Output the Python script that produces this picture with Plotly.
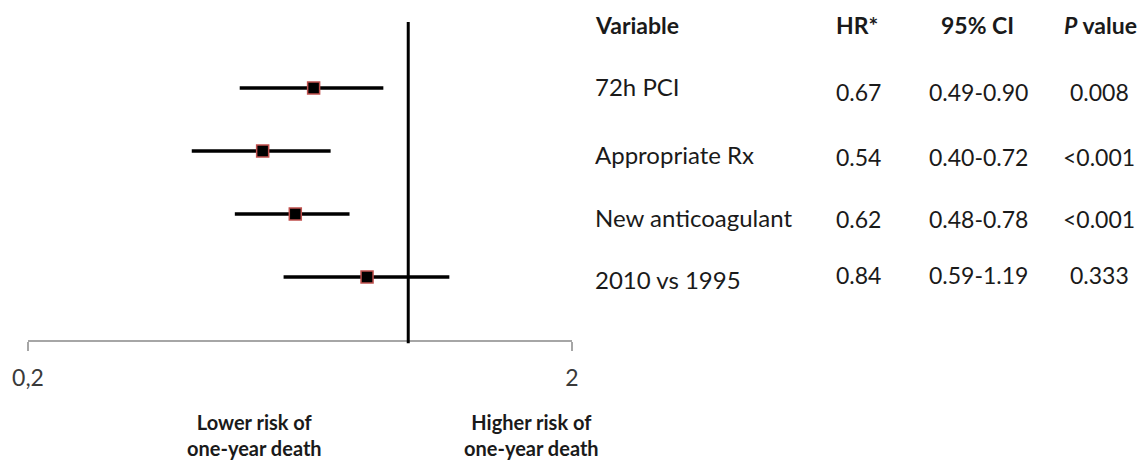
import plotly.graph_objects as go

variables = ["72h PCI", "Appropriate Rx", "New anticoagulant", "2010 vs 1995"]
hr = [0.67, 0.54, 0.62, 0.84]
ci_low = [0.49, 0.40, 0.48, 0.59]
ci_high = [0.90, 0.72, 0.78, 1.19]
hr_text = ["0.67", "0.54", "0.62", "0.84"]
ci_text = ["0.49-0.90", "0.40-0.72", "0.48-0.78", "0.59-1.19"]
p_text = ["0.008", "<0.001", "<0.001", "0.333"]
tick_vals = [0.2, 2]
tick_text = ["0,2", "2"]
rows = list(range(len(variables)))

W, H = 1147, 461
FONT = "Lato"
TXT = "#1a1a1a"

fig = go.Figure()

for i in rows:
    fig.add_trace(go.Scatter(
        x=[ci_low[i], ci_high[i]], y=[i, i], mode="lines",
        line=dict(color="black", width=3.4), showlegend=False, hoverinfo="skip"))

fig.add_trace(go.Scatter(
    x=hr, y=rows, mode="markers",
    marker=dict(symbol="square", size=12, color="black",
                line=dict(color="#C0504D", width=1.5)),
    showlegend=False))

# reference line at HR = 1
fig.add_shape(type="line", xref="x", yref="y domain", x0=1, x1=1, y0=-0.01, y1=1,
              line=dict(color="black", width=3))

x0px, x1px = 28, 572
ytop, ybot = 22, 340
row0, step = 88, 63
fig.update_layout(
    width=W, height=H, margin=dict(l=0, r=0, t=0, b=0, autoexpand=False),
    paper_bgcolor="white", plot_bgcolor="white",
    font=dict(family=FONT, color=TXT),
    xaxis=dict(type="log", domain=[x0px / W, x1px / W],
               range=[-0.69897, 0.30103], automargin=False,
               tickvals=tick_vals, ticktext=tick_text,
               showline=True, linecolor="#a6a6a6", linewidth=1.5,
               ticks="outside", ticklen=9, tickcolor="#a6a6a6", tickwidth=1.5,
               ticklabelstandoff=8,
               tickfont=dict(size=23, color="#3a3a3a", family=FONT),
               showgrid=False, zeroline=False),
    yaxis=dict(domain=[1 - ybot / H, 1 - ytop / H], automargin=False,
               range=[(ybot - row0) / step, (ytop - row0) / step],
               visible=False, showgrid=False),
)

def ann(text, x, y, yref="paper", xanchor="center", bold=False, size=21, yshift=0):
    fig.add_annotation(text=f"<b>{text}</b>" if bold else text,
                       x=x / W, xref="paper", y=y, yref=yref,
                       xanchor=xanchor, yanchor="middle", showarrow=False,
                       yshift=yshift,
                       font=dict(family=FONT, size=size, color=TXT))

# header
hy = 1 - 25 / H
ann("Variable", 593, hy, xanchor="left", bold=True, size=23)
ann("HR*", 857, hy, bold=True, size=23)
ann("95% CI", 977, hy, bold=True, size=23)
ann("<i>P</i> value", 1100, hy, bold=True, size=23)

label_shift = [2, -3, -3, -2]
value_shift = [-4, -6, -5, 2]
for i in rows:
    ann(variables[i], 593, i, yref="y", xanchor="left", yshift=label_shift[i], size=24)
    ann(hr_text[i], 858, i, yref="y", yshift=value_shift[i], size=23)
    ann(ci_text[i], 978, i, yref="y", yshift=value_shift[i], size=23)
    ann(p_text[i], 1099, i, yref="y", yshift=value_shift[i], size=23)

# direction labels
ann("Lower risk of<br>one-year death", 254, 1 - 435 / H, bold=True, size=20)
ann("Higher risk of<br>one-year death", 531, 1 - 435 / H, bold=True, size=20)

fig.write_html("out.html", post_script="document.body.style.margin='0';",
               config={"displayModeBar": False})
